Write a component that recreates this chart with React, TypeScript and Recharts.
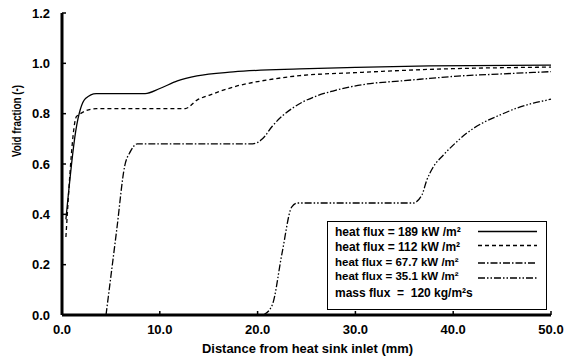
import { LineChart, Line, XAxis, YAxis, Legend } from "recharts";

// distance (mm), void fraction (-)
const flux189: [number, number][] = [
  [0.4, 0.38], [1.4, 0.73], [2.4, 0.86], [3.5, 0.88], [6, 0.88], [8.5, 0.88],
  [10, 0.9], [11.8, 0.93], [13.8, 0.95], [17.5, 0.966], [24.3, 0.978],
  [30, 0.984], [37.6, 0.99], [50, 0.993],
];
const flux112: [number, number][] = [
  [0.4, 0.31], [1.5, 0.79], [3.5, 0.82], [8, 0.82], [12.6, 0.82], [13.8, 0.854],
  [15.1, 0.874], [17.9, 0.91], [21, 0.934], [24.3, 0.951], [30, 0.963],
  [37.6, 0.976], [50, 0.985],
];
const flux67: [number, number][] = [
  [4.5, 0], [5.6, 0.34], [6.4, 0.59], [7, 0.65], [7.7, 0.68], [13, 0.68],
  [19.5, 0.68], [20.5, 0.7], [21.5, 0.75], [22.5, 0.79], [23.5, 0.82],
  [24.6, 0.846], [26, 0.87], [27.7, 0.89], [31.2, 0.918], [34.6, 0.93],
  [37.6, 0.94], [40, 0.948], [45, 0.958], [50, 0.967],
];
const flux35: [number, number][] = [
  [20.6, 0], [21.5, 0.04], [22.5, 0.246], [23.5, 0.43], [24.1, 0.445],
  [30, 0.445], [35.9, 0.445], [36.8, 0.477], [37.3, 0.536], [37.9, 0.584],
  [39, 0.636], [40, 0.675], [41.4, 0.723], [43, 0.763], [44.8, 0.795],
  [46.5, 0.822], [48.2, 0.842], [49.6, 0.854], [50, 0.858],
];

const xTicks = [0, 10, 20, 30, 40, 50];
const yTicks = [0, 0.2, 0.4, 0.6, 0.8, 1.0, 1.2];

const series = [
  { key: "q189", name: "heat flux = 189 kW /m²", pts: flux189, dash: undefined, fs: 12 },
  { key: "q112", name: "heat flux = 112 kW /m²", pts: flux112, dash: "4 3", fs: 12 },
  { key: "q67", name: "heat flux = 67.7 kW /m²", pts: flux67, dash: "7 2 1.5 2", fs: 11.5 },
  { key: "q35", name: "heat flux = 35.1 kW /m²", pts: flux35, dash: "7 2 1.5 2 1.5 2", fs: 11.5 },
];
const massFlux = "mass flux  =  120 kg/m²s";

const FONT = "'Liberation Sans', Arial, sans-serif";
const tickStyle = { fill: "#000", fontSize: 13, fontWeight: 700, fontFamily: FONT };

function FluxLegend() {
  const textY = [15, 30, 45, 59];
  const lineY = [10.5, 24.5, 42, 57];
  return (
    <svg width={221} height={90} style={{ display: "block", fontFamily: FONT }}>
      <rect x={0.5} y={0.5} width={219} height={88} fill="#fff" stroke="#000" strokeWidth={1} />
      {series.map((s, i) => (
        <g key={s.key}>
          <text x={8} y={textY[i]} fontSize={s.fs} fontWeight={700} fill="#000">
            {s.name}
          </text>
          <line x1={151} x2={210} y1={lineY[i]} y2={lineY[i]} stroke="#000"
            strokeWidth={1.3} strokeDasharray={s.dash} />
        </g>
      ))}
      <text x={8} y={76} fontSize={12} fontWeight={700} fill="#000" style={{ whiteSpace: "pre" }}>
        {massFlux}
      </text>
    </svg>
  );
}

export default function App() {
  return (
    <div style={{ position: "absolute", left: 0, top: 0, background: "#fff" }}>
      <LineChart width={571} height={363} margin={{ top: 13, right: 20, bottom: 0, left: 0 }}
        style={{ fontFamily: FONT }}>
        <XAxis xAxisId="b" type="number" dataKey="x" domain={[0, 50]} ticks={xTicks}
          tickFormatter={(v: number) => v.toFixed(1)} height={48}
          axisLine={{ stroke: "#000", strokeWidth: 3 }} tickLine={{ stroke: "#000", strokeWidth: 1.5 }}
          tickSize={-4} tickMargin={14} tick={tickStyle}
          label={{
            content: () => (
              <text x={307.5} y={353} textAnchor="middle" fontSize={12.5} fontWeight={700}
                fontFamily={FONT} fill="#000" textLength={211} lengthAdjust="spacingAndGlyphs">
                Distance from heat sink inlet (mm)
              </text>
            ),
          }} />
        <XAxis xAxisId="t" orientation="top" type="number" domain={[0, 50]} ticks={xTicks}
          height={0} tickFormatter={() => ""}
          axisLine={{ stroke: "#000", strokeWidth: 2 }} tickLine={{ stroke: "#000", strokeWidth: 1.5 }}
          tickSize={-4} />
        <YAxis yAxisId="l" type="number" domain={[0, 1.2]} ticks={yTicks} width={62}
          tickFormatter={(v: number) => v.toFixed(1)}
          axisLine={{ stroke: "#000", strokeWidth: 3 }} tickLine={{ stroke: "#000", strokeWidth: 1.5 }}
          tickSize={-4} tickMargin={16} tick={tickStyle}
          label={{
            content: () => (
              <text x={0} y={0} transform="translate(21,121) rotate(-90)" textAnchor="middle"
                fontSize={12} fontWeight={700} fontFamily={FONT} fill="#000"
                textLength={72} lengthAdjust="spacingAndGlyphs">
                Void fraction (-)
              </text>
            ),
          }} />
        <YAxis yAxisId="r" orientation="right" type="number" domain={[0, 1.2]} ticks={yTicks}
          width={0} tickFormatter={() => ""}
          axisLine={{ stroke: "#000", strokeWidth: 2.5 }} tickLine={{ stroke: "#000", strokeWidth: 1.5 }}
          tickSize={-4} />
        {series.map((s) => (
          <Line key={s.key} xAxisId="b" yAxisId="l" name={s.name} type="monotone"
            data={s.pts.map(([x, y]) => ({ x, y }))} dataKey="y" stroke="#000"
            strokeWidth={1.3} strokeDasharray={s.dash} dot={false} activeDot={false}
            isAnimationActive={false} />
        ))}
        <Legend layout="vertical" align="center" verticalAlign="middle"
          wrapperStyle={{ left: 327, top: 221, width: 221, height: 90 }}
          content={() => <FluxLegend />} />
      </LineChart>
    </div>
  );
}
